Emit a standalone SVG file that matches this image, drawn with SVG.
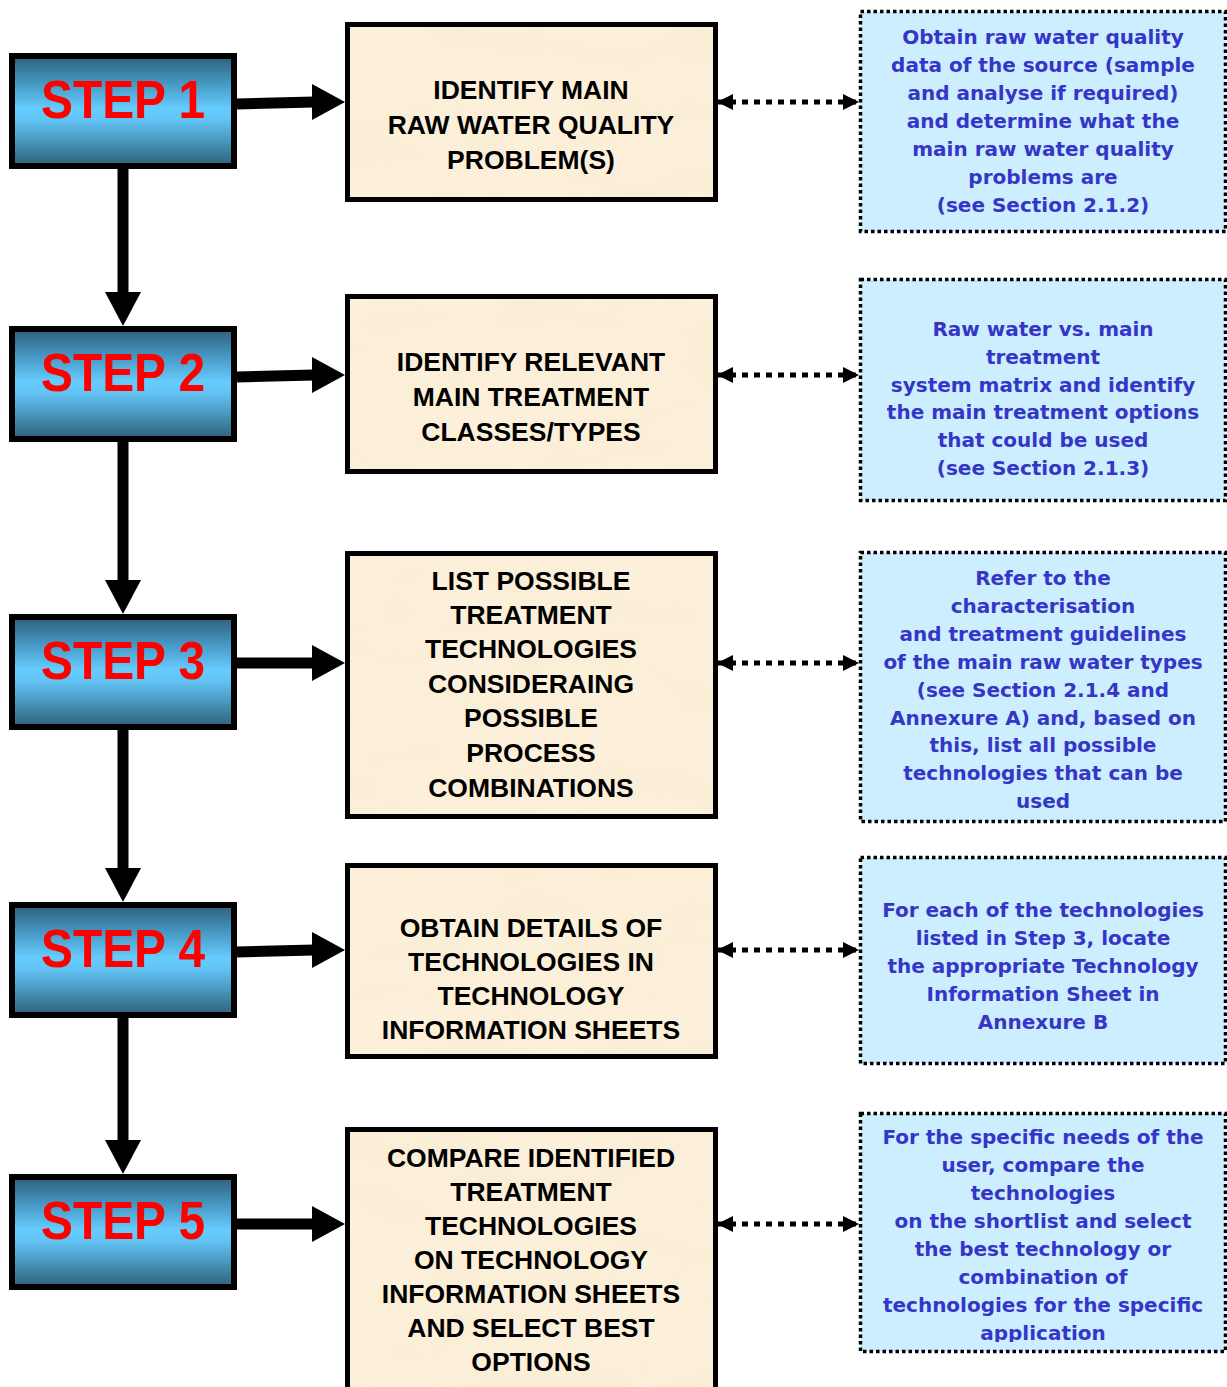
<svg xmlns="http://www.w3.org/2000/svg" width="1227" height="1387" viewBox="0 0 1227 1387">
  <defs>
    <linearGradient id="stepFill" x1="0" y1="0" x2="0" y2="1">
      <stop offset="0" stop-color="#2f5f78"/>
      <stop offset="0.2" stop-color="#3f8db5"/>
      <stop offset="0.48" stop-color="#66ccff"/>
      <stop offset="0.58" stop-color="#62c4f5"/>
      <stop offset="0.8" stop-color="#4590b5"/>
      <stop offset="1" stop-color="#2f5f78"/>
    </linearGradient>
    <filter id="parchment" x="0" y="0" width="100%" height="100%">
      <feTurbulence type="fractalNoise" baseFrequency="0.012 0.03" numOctaves="3" seed="7" result="n"/>
      <feColorMatrix in="n" type="matrix" values="0 0 0 0 0.85  0 0 0 0 0.72  0 0 0 0 0.5  0 0 0 1.1 -0.45"/>
    </filter>
    <marker id="headL" viewBox="0 0 16 16" refX="1" refY="8" markerWidth="16" markerHeight="16" markerUnits="userSpaceOnUse" orient="auto">
      <path d="M16,0 L0,8 L16,16 Z" fill="#000"/>
    </marker>
    <marker id="headR" viewBox="0 0 16 16" refX="15" refY="8" markerWidth="16" markerHeight="16" markerUnits="userSpaceOnUse" orient="auto">
      <path d="M0,0 L16,8 L0,16 Z" fill="#000"/>
    </marker>
    <clipPath id="clip5">
      <rect x="860" y="1112" width="366" height="230"/>
    </clipPath>
    <style>
      .step rect { fill: url(#stepFill); stroke: #000; stroke-width: 6; }
      .step text { font-family: "Liberation Sans", Arial, sans-serif; font-weight: bold; font-size: 53px; fill: #ff0000; text-anchor: middle; }
      .task .bg { fill: #fcf0da; stroke: none; }
      .task .tex { filter: url(#parchment); opacity: 0.35; }
      .task .frame { fill: none; stroke: #000; stroke-width: 5; }
      .task text { font-family: "Liberation Sans", Arial, sans-serif; font-weight: bold; font-size: 26.5px; fill: #000; text-anchor: middle; }
      .note rect { fill: #cceeff; stroke: #000; stroke-width: 3.5; stroke-dasharray: 3.5 3; }
      .note text { font-family: "DejaVu Sans", Verdana, sans-serif; font-weight: bold; font-size: 20px; fill: #3535c8; text-anchor: middle; }
      .flow { stroke: #000; stroke-width: 11; fill: none; }
      .head { fill: #000; }
      .dots { stroke: #000; stroke-width: 5; stroke-dasharray: 6 6; fill: none; marker-start: url(#headL); marker-end: url(#headR); }
    </style>
  </defs>

  <rect width="1227" height="1387" fill="#ffffff"/>

  <!-- connectors -->
  <g id="connectors">
    <!-- vertical flow between steps -->
    <line class="flow" x1="123" y1="169" x2="123" y2="294"/>
    <path class="head" d="M105,292 L141,292 L123,326 Z"/>
    <line class="flow" x1="123" y1="441" x2="123" y2="582"/>
    <path class="head" d="M105,580 L141,580 L123,614 Z"/>
    <line class="flow" x1="123" y1="729" x2="123" y2="870"/>
    <path class="head" d="M105,868 L141,868 L123,902 Z"/>
    <line class="flow" x1="123" y1="1017" x2="123" y2="1142"/>
    <path class="head" d="M105,1140 L141,1140 L123,1174 Z"/>

    <!-- step to task arrows -->
    <path class="flow" d="M237,104 L314,102"/>
    <path class="head" d="M312,84 L345,102 L312,120 Z"/>
    <path class="flow" d="M237,377 L314,375"/>
    <path class="head" d="M312,357 L345,375 L312,393 Z"/>
    <path class="flow" d="M237,663 L314,663"/>
    <path class="head" d="M312,645 L345,663 L312,681 Z"/>
    <path class="flow" d="M237,952 L314,950"/>
    <path class="head" d="M312,932 L345,950 L312,968 Z"/>
    <path class="flow" d="M237,1224 L314,1224"/>
    <path class="head" d="M312,1206 L345,1224 L312,1242 Z"/>

    <!-- dotted links between tasks and notes -->
    <line class="dots" x1="718" y1="102" x2="858" y2="102"/>
    <line class="dots" x1="718" y1="375" x2="858" y2="375"/>
    <line class="dots" x1="718" y1="663" x2="858" y2="663"/>
    <line class="dots" x1="718" y1="950" x2="858" y2="950"/>
    <line class="dots" x1="718" y1="1224" x2="858" y2="1224"/>
  </g>

  <!-- step boxes -->
  <g id="step1" class="step">
    <rect x="12" y="56" width="222" height="110"/>
    <text x="123" y="118" textLength="164" lengthAdjust="spacingAndGlyphs">STEP 1</text>
  </g>
  <g id="step2" class="step">
    <rect x="12" y="329" width="222" height="110"/>
    <text x="123" y="391" textLength="164" lengthAdjust="spacingAndGlyphs">STEP 2</text>
  </g>
  <g id="step3" class="step">
    <rect x="12" y="617" width="222" height="110"/>
    <text x="123" y="679" textLength="164" lengthAdjust="spacingAndGlyphs">STEP 3</text>
  </g>
  <g id="step4" class="step">
    <rect x="12" y="905" width="222" height="110"/>
    <text x="123" y="967" textLength="164" lengthAdjust="spacingAndGlyphs">STEP 4</text>
  </g>
  <g id="step5" class="step">
    <rect x="12" y="1177" width="222" height="110"/>
    <text x="123" y="1239" textLength="164" lengthAdjust="spacingAndGlyphs">STEP 5</text>
  </g>

  <!-- task boxes -->
  <g id="task1" class="task">
    <rect class="bg" x="348" y="25" width="367" height="174"/>
    <rect class="tex" x="348" y="25" width="367" height="174"/>
    <rect class="frame" x="347.5" y="24.5" width="368" height="175"/>
    <text x="531" y="99">IDENTIFY MAIN</text>
    <text x="531" y="134">RAW WATER QUALITY</text>
    <text x="531" y="169">PROBLEM(S)</text>
  </g>
  <g id="task2" class="task">
    <rect class="bg" x="348" y="297" width="367" height="174"/>
    <rect class="tex" x="348" y="297" width="367" height="174"/>
    <rect class="frame" x="347.5" y="296.5" width="368" height="175"/>
    <text x="531" y="371">IDENTIFY RELEVANT</text>
    <text x="531" y="406">MAIN TREATMENT</text>
    <text x="531" y="441">CLASSES/TYPES</text>
  </g>
  <g id="task3" class="task">
    <rect class="bg" x="348" y="554" width="367" height="262"/>
    <rect class="tex" x="348" y="554" width="367" height="262"/>
    <rect class="frame" x="347.5" y="553.5" width="368" height="263"/>
    <text x="531" y="590">LIST POSSIBLE</text>
    <text x="531" y="624">TREATMENT</text>
    <text x="531" y="658">TECHNOLOGIES</text>
    <text x="531" y="693">CONSIDERAING</text>
    <text x="531" y="727">POSSIBLE</text>
    <text x="531" y="762">PROCESS</text>
    <text x="531" y="797">COMBINATIONS</text>
  </g>
  <g id="task4" class="task">
    <rect class="bg" x="348" y="866" width="367" height="190"/>
    <rect class="tex" x="348" y="866" width="367" height="190"/>
    <rect class="frame" x="347.5" y="865.5" width="368" height="191"/>
    <text x="531" y="937">OBTAIN DETAILS OF</text>
    <text x="531" y="971">TECHNOLOGIES IN</text>
    <text x="531" y="1005">TECHNOLOGY</text>
    <text x="531" y="1039">INFORMATION SHEETS</text>
  </g>
  <g id="task5" class="task">
    <rect class="bg" x="348" y="1130" width="367" height="270"/>
    <rect class="tex" x="348" y="1130" width="367" height="270"/>
    <rect class="frame" x="347.5" y="1129.5" width="368" height="275"/>
    <text x="531" y="1167">COMPARE IDENTIFIED</text>
    <text x="531" y="1201">TREATMENT</text>
    <text x="531" y="1235">TECHNOLOGIES</text>
    <text x="531" y="1269">ON TECHNOLOGY</text>
    <text x="531" y="1303">INFORMATION SHEETS</text>
    <text x="531" y="1337">AND SELECT BEST</text>
    <text x="531" y="1371">OPTIONS</text>
  </g>

  <!-- side notes -->
  <g id="note1" class="note">
    <rect x="860.5" y="11.5" width="365" height="220"/>
    <text x="1043" y="44">Obtain raw water quality</text>
    <text x="1043" y="72">data of the source (sample</text>
    <text x="1043" y="100">and analyse if required)</text>
    <text x="1043" y="128">and determine what the</text>
    <text x="1043" y="156">main raw water quality</text>
    <text x="1043" y="184">problems are</text>
    <text x="1043" y="212">(see Section 2.1.2)</text>
  </g>
  <g id="note2" class="note">
    <rect x="860.5" y="279.5" width="365" height="221"/>
    <text x="1043" y="336">Raw water vs. main</text>
    <text x="1043" y="364">treatment</text>
    <text x="1043" y="392">system matrix and identify</text>
    <text x="1043" y="419">the main treatment options</text>
    <text x="1043" y="447">that could be used</text>
    <text x="1043" y="475">(see Section 2.1.3)</text>
  </g>
  <g id="note3" class="note">
    <rect x="860.5" y="552.5" width="365" height="269"/>
    <text x="1043" y="585">Refer to the</text>
    <text x="1043" y="613">characterisation</text>
    <text x="1043" y="641">and treatment guidelines</text>
    <text x="1043" y="669">of the main raw water types</text>
    <text x="1043" y="697">(see Section 2.1.4 and</text>
    <text x="1043" y="725">Annexure A) and, based on</text>
    <text x="1043" y="752">this, list all possible</text>
    <text x="1043" y="780">technologies that can be</text>
    <text x="1043" y="808">used</text>
  </g>
  <g id="note4" class="note">
    <rect x="860.5" y="857.5" width="365" height="206"/>
    <text x="1043" y="917">For each of the technologies</text>
    <text x="1043" y="945">listed in Step 3, locate</text>
    <text x="1043" y="973">the appropriate Technology</text>
    <text x="1043" y="1001">Information Sheet in</text>
    <text x="1043" y="1029">Annexure B</text>
  </g>
  <g id="note5" class="note">
    <rect x="860.5" y="1113.5" width="365" height="238"/>
    <g clip-path="url(#clip5)">
      <text x="1043" y="1144">For the specific needs of the</text>
      <text x="1043" y="1172">user, compare the</text>
      <text x="1043" y="1200">technologies</text>
      <text x="1043" y="1228">on the shortlist and select</text>
      <text x="1043" y="1256">the best technology or</text>
      <text x="1043" y="1284">combination of</text>
      <text x="1043" y="1312">technologies for the specific</text>
      <text x="1043" y="1340">application</text>
    </g>
  </g>
</svg>
